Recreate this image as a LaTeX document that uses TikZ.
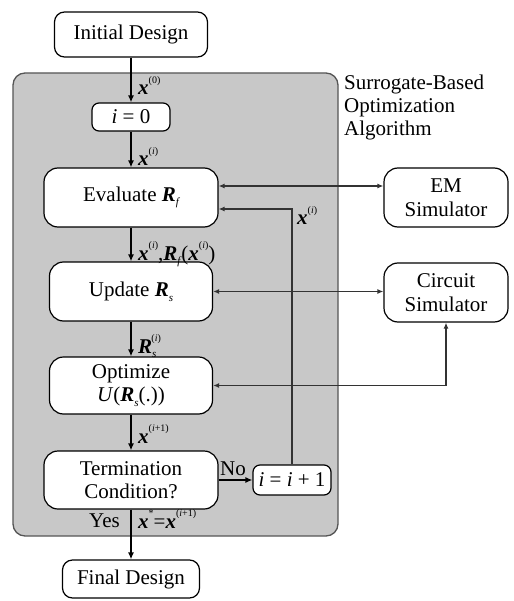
\documentclass[tikz,border=0pt]{standalone}
\usepackage{fontspec}
\setmainfont{Liberation Serif}
\usetikzlibrary{arrows.meta}
\newcommand{\bx}{\textbf{\textit{x}}}
\newcommand{\bR}{\textbf{\textit{R}}}
\newcommand{\sps}[1]{\raisebox{0.55em}{\fontsize{10}{10}\selectfont #1}}
\newcommand{\sbs}[1]{\raisebox{-0.22em}{\fontsize{11}{11}\selectfont\itshape #1}}
\definecolor{boxgray}{RGB}{200,200,200}
\definecolor{edgegray}{RGB}{85,85,85}
\begin{document}
\begin{tikzpicture}[x=1pt,y=-1pt,
  every node/.style={font=\fontsize{21}{23.5}\selectfont},
  blk/.style={draw=black,line width=1.2pt,fill=white,rounded corners=10pt,inner sep=0pt,align=center},
  mainarr/.style={line width=1.8pt,-{Latex[length=7pt,width=6pt]}},
  thinarr/.style={line width=1.4pt,draw=black!80,{Latex[length=6pt,width=5pt]}-{Latex[length=6pt,width=5pt]}},
  fbarr/.style={line width=1.4pt,draw=black!80,-{Latex[length=6pt,width=5pt]}},
  lbl/.style={anchor=base west,inner sep=0pt}]
\useasboundingbox (0,0) rectangle (513,601);
\draw[fill=boxgray,draw=edgegray,line width=1.3pt,rounded corners=12pt] (13,73) rectangle (338,536);
\node[anchor=base west,inner sep=0pt,align=left] (title) at (344,90) {Surrogate-Based};
\node[anchor=base west,inner sep=0pt] (title2) at (344,113) {Optimization};
\node[anchor=base west,inner sep=0pt] (title3) at (344,136) {Algorithm};

\node[blk,minimum width=153pt,minimum height=45pt] (init) at (131,34.5) {Initial Design};
\node[blk,minimum width=78pt,minimum height=28pt,rounded corners=7pt] (i0) at (131,117) {\textit{i} = 0};
\node[blk,minimum width=174pt,minimum height=59pt,rounded corners=14pt] (eval) at (131,197.5) {Evaluate \bR\sbs{f}};
\node[blk,minimum width=163pt,minimum height=59pt,rounded corners=14pt] (update) at (131,291.5) {Update \bR\sbs{s}};
\node[blk,minimum width=163pt,minimum height=57pt,rounded corners=14pt] (opt) at (131,385.5) {Optimize\\\textit{U}(\bR\sbs{s}(.))};
\node[blk,minimum width=174pt,minimum height=58pt,rounded corners=14pt] (term) at (131,480) {Termination\\Condition?};
\node[blk,minimum width=137pt,minimum height=38pt] (final) at (131,579) {Final Design};
\node[blk,minimum width=124pt,minimum height=59pt,rounded corners=14pt] (em) at (446,197.5) {EM\\Simulator};
\node[blk,minimum width=124pt,minimum height=59pt,rounded corners=14pt] (circ) at (446,292.5) {Circuit\\Simulator};
\node[blk,minimum width=78pt,minimum height=30pt,rounded corners=7pt] (inc) at (292,480) {\textit{i} = \textit{i} + 1};

\draw[mainarr] (init) -- (i0);
\draw[mainarr] (i0) -- (eval);
\draw[mainarr] (eval) -- (update);
\draw[mainarr] (update) -- (opt);
\draw[mainarr] (opt) -- (term);
\draw[mainarr] (term) -- (final);
\draw[mainarr] (term.east) -- (inc.west);

\coordinate (emy) at (0,186);
\coordinate (fb) at (292,209);
\draw[thinarr] (eval.east |- emy) -- (em.west |- emy);
\draw[thinarr] (update.east) -- (update.east -| circ.west);
\draw[thinarr] (opt.east) -- (opt.east -| circ.south) -- (circ.south);
\draw[fbarr] (inc.north) -- (fb) -- (fb -| eval.east);

\node[lbl] (l0) at (138,95) {\bx\sps{(0)}};
\node[lbl] (l1) at (138,166) {\bx\sps{(\textit{i})}};
\node[lbl] (l2) at (138,260) {\bx\sps{(\textit{i})},\bR\sbs{f}\kern1pt(\bx\sps{(\textit{i})})};
\node[lbl] (l3) at (138,353) {\bR\sbs{s}\kern-5pt\sps{(\textit{i})}};
\node[lbl] (l4) at (138,443) {\bx\sps{(\textit{i}+1)}};
\node[lbl] (l5) at (138,528) {\bx\sps{*}=\bx\sps{(\textit{i}+1)}};
\node[anchor=base east,inner sep=0pt] (yes) at (120,527) {Yes};
\node[anchor=base west,inner sep=0pt] (no) at (220,475) {No};
\node[lbl] (l6) at (297,225) {\bx\sps{(\textit{i})}};
\end{tikzpicture}
\end{document}
